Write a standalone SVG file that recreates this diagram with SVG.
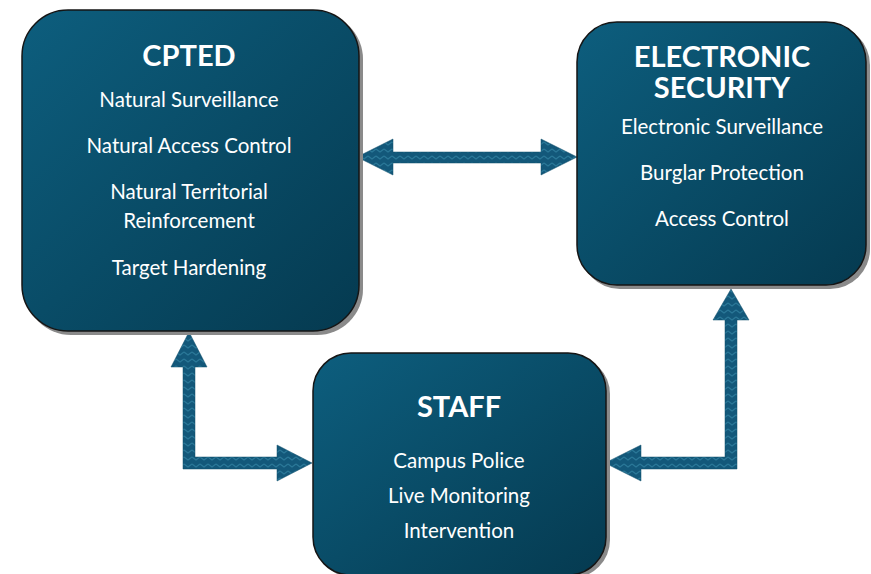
<svg xmlns="http://www.w3.org/2000/svg" width="871" height="574" viewBox="0 0 871 574">
<defs>
<linearGradient id="boxg" x1="0" y1="0" x2="1" y2="1">
<stop offset="0" stop-color="#0d5e7e"/>
<stop offset="1" stop-color="#053a50"/>
</linearGradient>
<pattern id="zz" width="8" height="7" patternUnits="userSpaceOnUse">
<rect width="8" height="7" fill="#13587a"/>
<polyline points="0,2 4,5 8,2" fill="none" stroke="#2a7898" stroke-width="1.2"/>
</pattern>
<style>
.shadow{fill:#8a8a8a}
.box{fill:url(#boxg);stroke:#151515;stroke-width:1.5}
.arrow{fill:url(#zz);stroke:#0e4c68;stroke-width:0.5}
.t{font-family:Lato,"Noto Sans",sans-serif;fill:#ffffff;text-anchor:middle}
.title{font-size:29px;font-weight:bold}
.item{font-size:20.5px}
</style>
</defs>
<g id="connectors">
<path class="arrow" d="M357,157 L393,139 L393,152 L541,152 L541,139 L577,157 L541,175 L541,163 L393,163 L393,175 Z"/>
<path class="arrow" d="M189,332 L207,367 L195,367 L195,457 L277,457 L277,445 L312,463 L277,481 L277,469 L183,469 L183,367 L171,367 Z"/>
<path class="arrow" d="M731,289 L749,320 L737,320 L737,469 L641,469 L641,481 L605,463 L641,445 L641,457 L725,457 L725,320 L713,320 Z"/>
</g>
<g id="cpted">
<rect class="shadow" x="25" y="13" width="338" height="322" rx="46"/>
<rect class="box" x="22" y="10" width="337" height="321" rx="46"/>
<text class="t title" x="189" y="66">CPTED</text>
<text class="t item" x="189" y="107">Natural Surveillance</text>
<text class="t item" x="189" y="153">Natural Access Control</text>
<text class="t item" x="189" y="199">Natural  Territorial</text>
<text class="t item" x="189" y="228">Reinforcement</text>
<text class="t item" x="189" y="275">Target Hardening</text>
</g>
<g id="electronic-security">
<rect class="shadow" x="580" y="25" width="290" height="264" rx="40"/>
<rect class="box" x="577" y="22" width="289" height="263" rx="40"/>
<text class="t title" x="722" y="67">ELECTRONIC</text>
<text class="t title" x="722" y="98">SECURITY</text>
<text class="t item" x="722" y="134">Electronic Surveillance</text>
<text class="t item" x="722" y="180">Burglar Protection</text>
<text class="t item" x="722" y="226">Access Control</text>
</g>
<g id="staff">
<rect class="shadow" x="316" y="356" width="294" height="222" rx="38"/>
<rect class="box" x="313" y="353" width="293" height="222" rx="38"/>
<text class="t title" x="459" y="417">STAFF</text>
<text class="t item" x="459" y="468">Campus Police</text>
<text class="t item" x="459" y="503">Live Monitoring</text>
<text class="t item" x="459" y="538">Intervention</text>
</g>
</svg>
